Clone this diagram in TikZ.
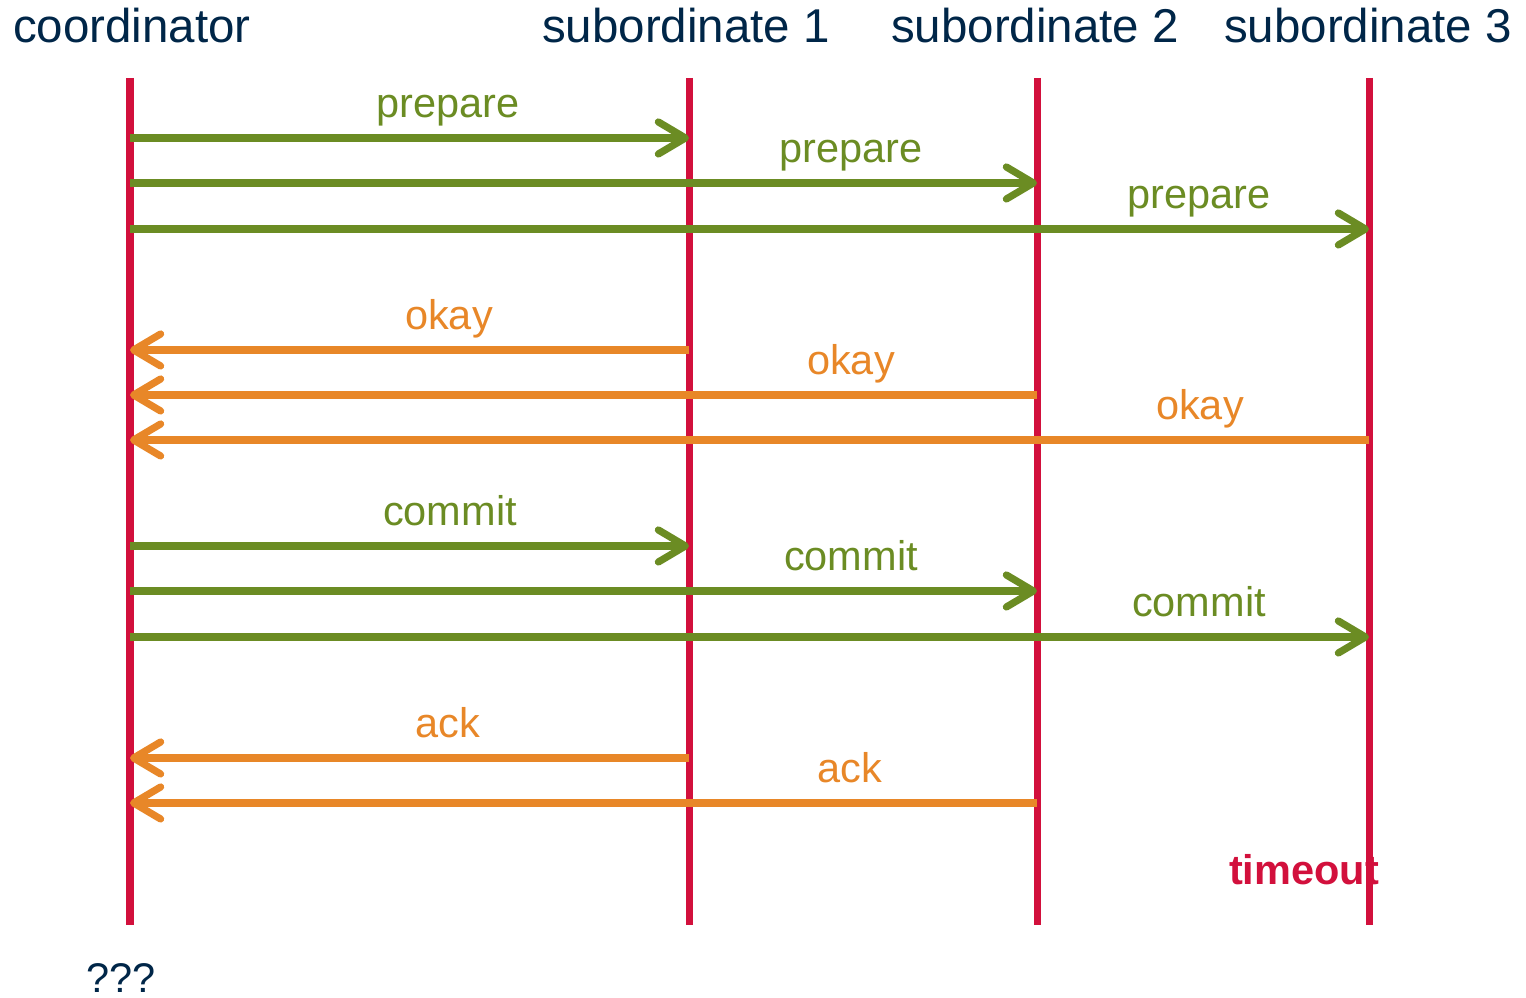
\documentclass[tikz,border=0pt]{standalone}
\usepackage{fontspec}
\setmainfont{Liberation Sans}
\usetikzlibrary{arrows.meta}
\definecolor{navy}{RGB}{0,38,72}
\definecolor{lifered}{RGB}{210,16,60}
\definecolor{callgreen}{RGB}{107,140,35}
\definecolor{replyorange}{RGB}{232,135,40}
\tikzstyle{party}=[font=\fontsize{13.5}{16}\selectfont, text=navy, anchor=base, inner sep=0pt]
\tikzstyle{lifeline}=[draw=lifered, line width=0.07cm]
\tikzstyle{call}=[draw=callgreen, line width=0.072cm, -{Straight Barb[length=2.7mm,width=3.2mm,round]}]
\tikzstyle{reply}=[call, draw=replyorange]
\tikzstyle{msg}=[font=\fontsize{11.8}{14}\selectfont, anchor=base, inner sep=0pt]

\begin{document}
\begin{tikzpicture}[x=0.01cm, y=-0.01cm]
    \useasboundingbox (0,0) rectangle (1526,998);

    % parties and their lifelines
    \foreach \pos/\name/\txt in {
                            {(132,43)/co/coordinator},
                            {(686,43)/s1/subordinate 1},
                            {(1035,43)/s2/subordinate 2},
                            {(1368,43)/s3/subordinate 3}}
        \node[party] (\name) at \pos {\txt};

    \foreach \x/\name in {130/co, 689/s1, 1037/s2, 1369/s3} {
        \coordinate (\name-top) at (\x,78);
        \coordinate (\name-bot) at (\x,925);
        \draw[lifeline] (\name-top) -- (\name-bot);
    }

    % messages from the coordinator
    \foreach \y/\dest/\lx/\txt in {138/s1/448/prepare, 183/s2/851/prepare, 229/s3/1199/prepare,
                                  546/s1/450/commit, 591/s2/851/commit, 637/s3/1199/commit} {
        \coordinate (m\y) at (0,\y);
        \path[call] (co-top |- m\y) -- (\dest-top |- m\y);
        \node[msg, text=callgreen] (lbl\y) at (\lx,\y-20) {\txt};
    }

    % answers back to the coordinator
    \foreach \y/\src/\lx/\txt in {350/s1/449/okay, 395/s2/851/okay, 440/s3/1200/okay,
                                  758/s1/448/ack, 803/s2/850/ack} {
        \coordinate (m\y) at (0,\y);
        \path[reply] (\src-top |- m\y) -- (co-top |- m\y);
        \node[msg, text=replyorange] (lbl\y) at (\lx,\y-20) {\txt};
    }

    \node[msg, text=lifered, font=\fontsize{11.8}{14}\selectfont\bfseries] (timeout) at (1304,885) {timeout};
    \node[msg, text=navy] (unknown) at (121,993) {???};

\end{tikzpicture}
\end{document}
